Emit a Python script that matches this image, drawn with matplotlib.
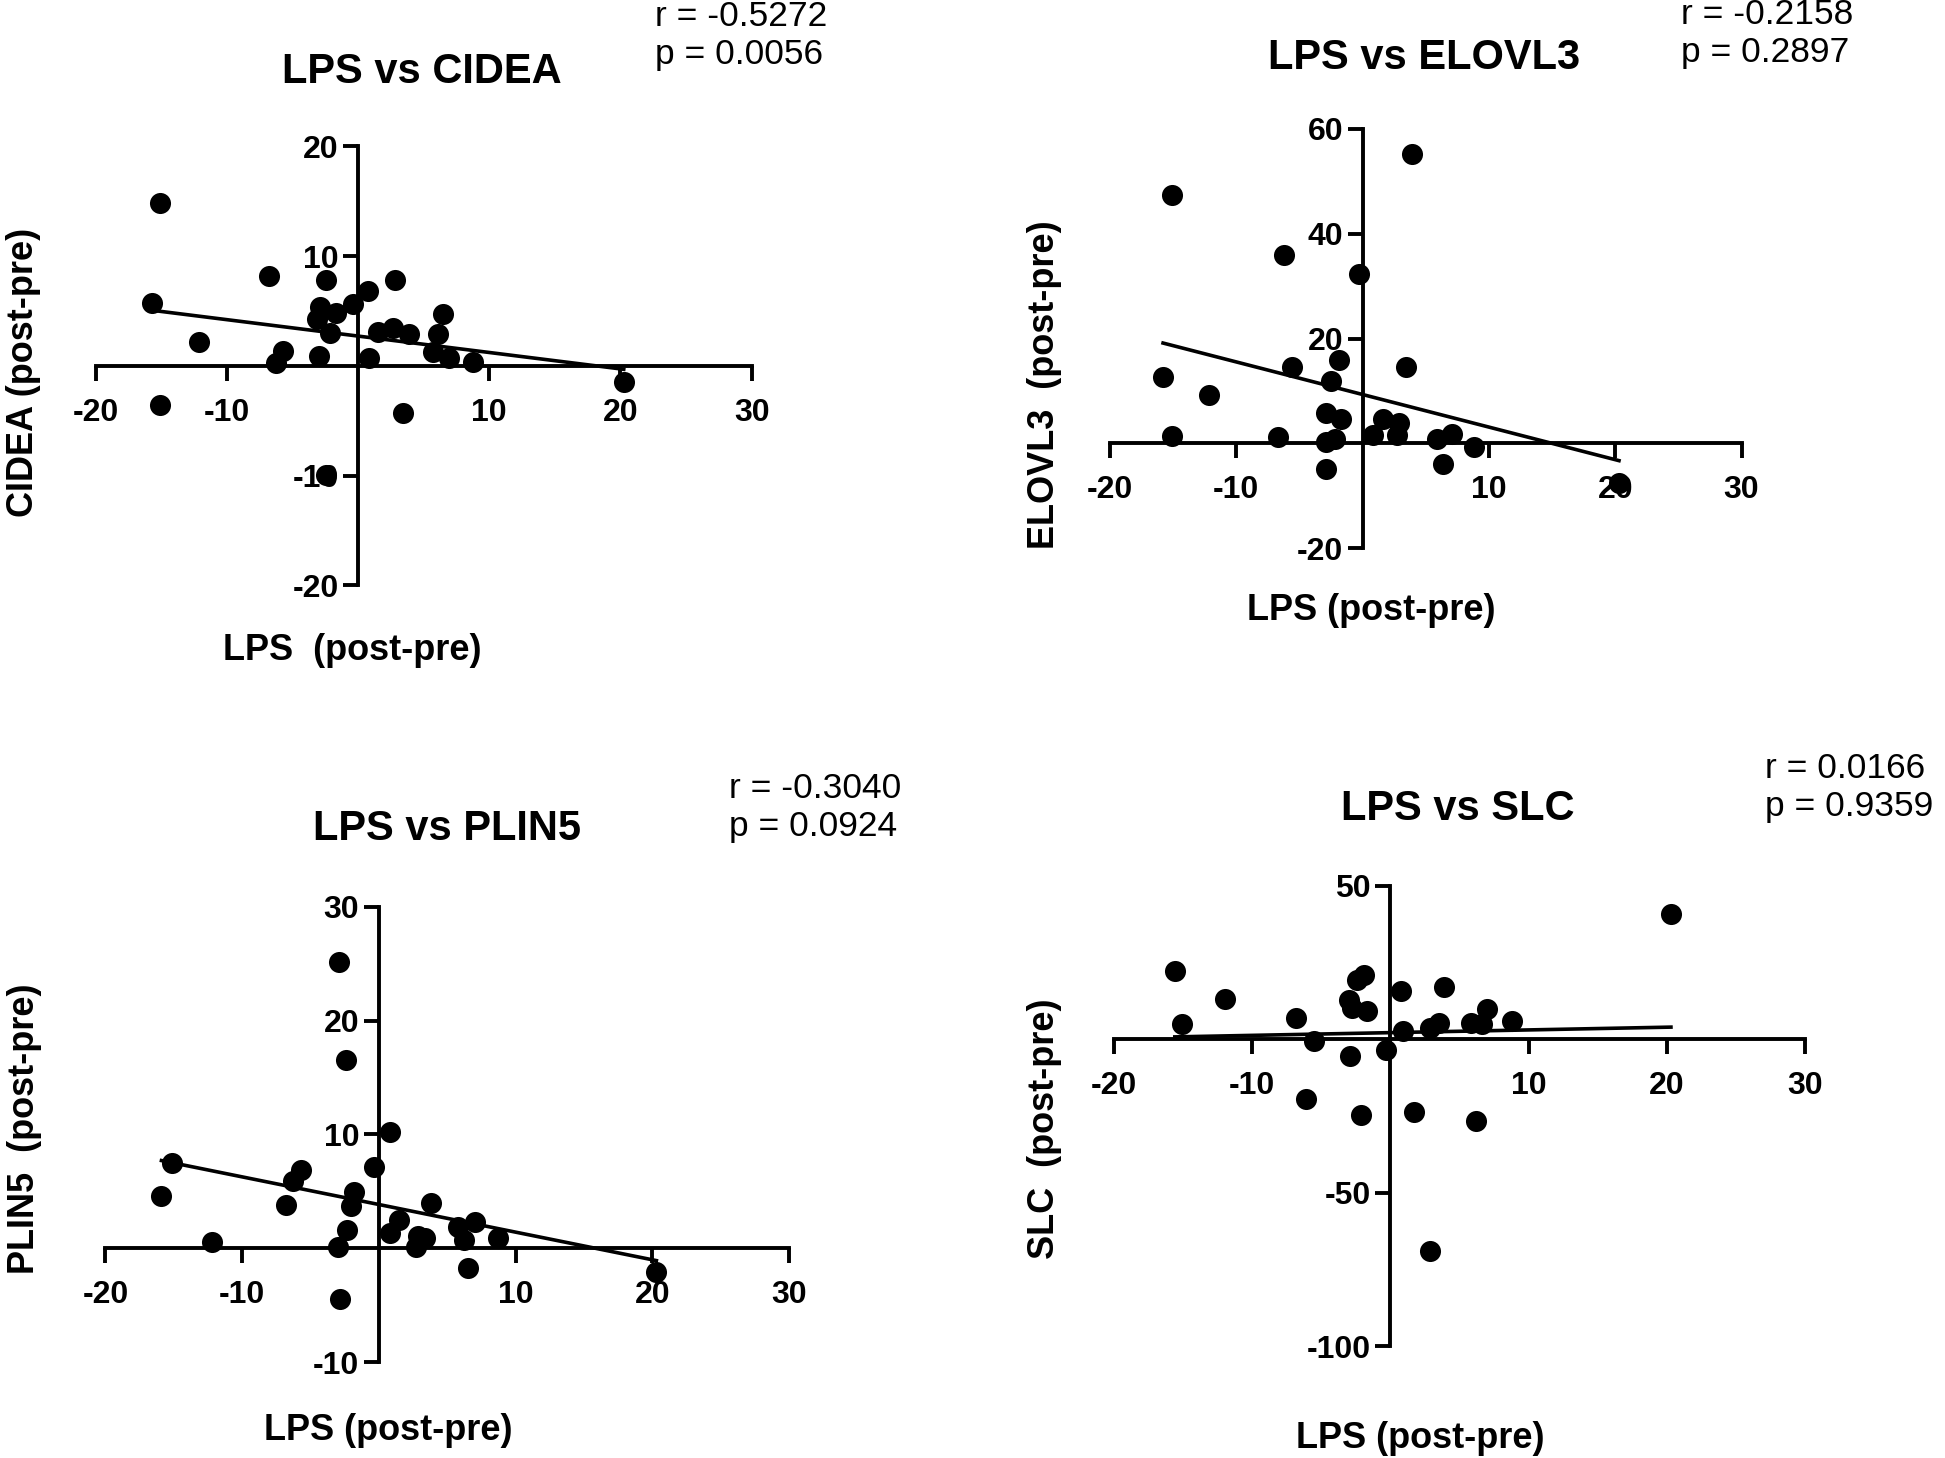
import numpy as np
import matplotlib
matplotlib.use("Agg")
import matplotlib.pyplot as plt

plt.rcParams['font.family'] = ['Liberation Sans', 'DejaVu Sans']
plt.rcParams['axes.unicode_minus'] = False

# ---------------- data ----------------
lps_cidea = [-15.05, -15.7, -15.05, -12.15, -6.8, -6.25, -5.7, -3.0, -2.4, -2.9,
             -3.1, -1.7, -2.1, -2.4, -0.4, 0.8, 0.85, 1.5, 2.8, 2.7, 3.9, 3.4,
             6.5, 6.1, 5.7, 6.9, 8.8, 20.25]
cidea = [14.8, 5.7, -3.6, 2.2, 8.2, 0.3, 1.4, 0.9, 7.8, 5.4,
         4.3, 4.8, 3.0, -9.9, 5.6, 6.8, 0.7, 3.1, 7.8, 3.5, 2.9, -4.3,
         4.7, 2.9, 1.3, 0.7, 0.4, -1.5]

lps_elovl3 = [-15.1, -15.8, -15.1, -12.2, -6.2, -6.7, -5.6, -2.9, -2.9, -2.9,
              -2.5, -1.9, -2.2, -1.7, -0.3, 0.85, 1.65, 2.85, 2.75, 3.4, 3.9,
              5.9, 6.4, 7.1, 8.8, 20.3]
elovl3 = [47.4, 12.6, 1.4, 9.3, 36.0, 1.2, 14.5, 5.8, 0.2, -4.9,
          12.0, 16.0, 0.8, 4.7, 32.3, 1.6, 4.7, 4.0, 1.6, 14.6, 55.2,
          0.9, -3.9, 1.8, -0.6, -7.6]

lps_plin5 = [-15.1, -15.9, -12.2, -6.8, -6.25, -5.7, -2.9, -2.4, -3.0, -2.85,
             -2.3, -2.0, -1.8, -0.35, 0.85, 0.85, 1.5, 2.75, 2.85, 3.4, 3.8,
             5.8, 6.2, 6.5, 7.0, 8.7, 20.3]
plin5 = [7.5, 4.6, 0.5, 3.8, 5.9, 6.9, 25.1, 16.5, 0.1, -4.5,
         1.6, 3.7, 4.9, 7.1, 10.2, 1.3, 2.5, 0.1, 1.1, 0.9, 4.0,
         1.9, 0.7, -1.7, 2.3, 0.9, -2.1]

lps_slc = [-15.6, -15.1, -12.0, -6.8, -6.1, -5.5, -2.9, -2.1, -3.0, -2.8,
           -2.4, -1.9, -1.7, -0.3, 0.75, 0.9, 1.7, 2.85, 2.9, 3.5, 3.9,
           5.8, 6.6, 6.2, 7.0, 8.8, 20.3]
slc = [22.2, 4.8, 13.2, 7.0, -19.5, -0.7, -5.4, -24.7, 12.6, 10.0,
       19.3, 20.8, 9.2, -3.4, 15.6, 2.8, -23.8, -68.9, 3.6, 5.1, 17.0,
       5.2, 4.8, -26.8, 9.7, 6.0, 40.8]

titles = ["LPS vs CIDEA", "LPS vs ELOVL3", "LPS vs PLIN5", "LPS vs SLC"]
ylabels = ["CIDEA (post-pre)", "ELOVL3  (post-pre)", "PLIN5  (post-pre)", "SLC  (post-pre)"]
xlabels = ["LPS  (post-pre)", "LPS (post-pre)", "LPS (post-pre)", "LPS (post-pre)"]
stats = ["r = -0.5272\np = 0.0056", "r = -0.2158\np = 0.2897",
         "r = -0.3040\np = 0.0924", "r = 0.0166\np = 0.9359"]
xticks = [-20, -10, 10, 20, 30]
yticks_list = [[-20, -10, 10, 20], [-20, 20, 40, 60], [-10, 10, 20, 30], [-100, -50, 50]]
ylims = [(-20, 20), (-20, 60), (-10, 30), (-100, 50)]

# ---------------- layout (pixels in 1945x1458) ----------------
W, H = 1945, 1458
fig = plt.figure(figsize=(W / 100, H / 100), dpi=100)

boxes = [(95.5, 751.7, 146.4, 585.5),
         (1110, 1741.5, 129, 548.3),
         (105.4, 789, 906.7, 1362),
         (1114, 1805, 885.7, 1346)]
title_pos = [(422, 72), (1424, 58), (447, 829), (1458, 809)]
stat_pos = [(655, 0), (1681, -2), (729, 772), (1765, 752)]
ylab_pos = [(24, 372), (1044, 385), (25, 1129), (1044, 1129)]
xlab_pos = [(352, 651), (1371, 611), (388, 1430), (1420, 1439)]

datasets = [(lps_cidea, cidea), (lps_elovl3, elovl3), (lps_plin5, plin5), (lps_slc, slc)]

LW = 2.8
for i, (xv, yv) in enumerate(datasets):
    xl, xr, yt, yb = boxes[i]
    ax = fig.add_axes([xl / W, 1 - yb / H, (xr - xl) / W, (yb - yt) / H])
    ax.set_facecolor('none')
    x = np.array(xv)
    y = np.array(yv)
    ax.scatter(x, y, s=230, color='black', zorder=3, linewidths=0, clip_on=False)
    m, b = np.polyfit(x, y, 1)
    xx = np.array([x.min(), x.max()])
    ax.plot(xx, m * xx + b, color='black', lw=2.6, zorder=2)
    ax.set_xlim(-20, 30)
    ax.set_ylim(*ylims[i])
    for s in ['top', 'right']:
        ax.spines[s].set_visible(False)
    ax.spines['left'].set_position(('data', 0))
    ax.spines['bottom'].set_position(('data', 0))
    ax.spines['left'].set_linewidth(LW)
    ax.spines['bottom'].set_linewidth(LW)
    ax.set_xticks(xticks)
    ax.set_yticks(yticks_list[i])
    ax.tick_params(axis='both', direction='out', length=11, width=LW,
                   labelsize=23, pad=3)
    ax.xaxis.set_tick_params(pad=12)
    for lab in ax.get_xticklabels() + ax.get_yticklabels():
        lab.set_fontweight('bold')

    tx, ty = title_pos[i]
    fig.text(tx / W, 1 - ty / H, titles[i], ha='center', va='center',
             fontsize=30, fontweight='bold')
    sx, sy = stat_pos[i]
    fig.text(sx / W, 1 - sy / H, stats[i], ha='left', va='top',
             fontsize=25.5, linespacing=1.2)
    lx, ly = ylab_pos[i]
    fig.text(lx / W, 1 - ly / H, ylabels[i], ha='center', va='center',
             rotation=90, fontsize=26, fontweight='bold')
    qx, qy = xlab_pos[i]
    fig.text(qx / W, 1 - qy / H, xlabels[i], ha='center', va='center',
             fontsize=26, fontweight='bold')

fig.savefig('out.png', dpi=100)
